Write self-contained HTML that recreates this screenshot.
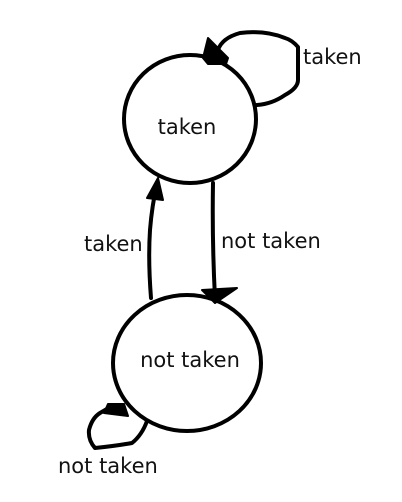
<!DOCTYPE html>
<html><head><style>
html,body{margin:0;padding:0;background:#fff;}
svg{display:block}
text{font-family:"DejaVu Sans","Liberation Sans",sans-serif;font-size:21px;fill:#111}
</style></head><body>
<svg width="402" height="502" viewBox="0 0 402 502">
<g fill="none" stroke="#000" stroke-width="4" stroke-linecap="round" stroke-linejoin="round">
<ellipse cx="190" cy="119" rx="66" ry="64"/>
<ellipse cx="187" cy="363" rx="74" ry="68"/>
<path d="M257 105 Q272 104 285 95 Q298 88 298 80 L298 47 Q292 40 285 38 Q265 30 240 33 Q222 38 218 50 L214 62"/>
<path d="M151 298 Q148 260 150 230 Q152 205 157 184"/>
<path d="M213 183 Q212 240 215 298"/>
<path d="M147 421 Q142 435 132 443 Q115 446 95 448 Q88 440 89 430 Q92 418 100 413 L112 406"/>
</g>
<g fill="#000" stroke="#000" stroke-width="2" stroke-linejoin="round">
<polygon points="208,38 203,58 208,64 226,64 228,58"/>
<polygon points="158,178 147,198 163,200"/>
<polygon points="202,290 237,288 215,303"/>
<polygon points="108,404 124,404 128,416 104,413"/>
</g>
<text x="187" y="134" text-anchor="middle">taken</text>
<text x="190" y="367" text-anchor="middle">not taken</text>
<text x="303" y="64">taken</text>
<text x="84" y="251">taken</text>
<text x="221" y="248">not taken</text>
<text x="58" y="473">not taken</text>
</svg>
</body></html>
